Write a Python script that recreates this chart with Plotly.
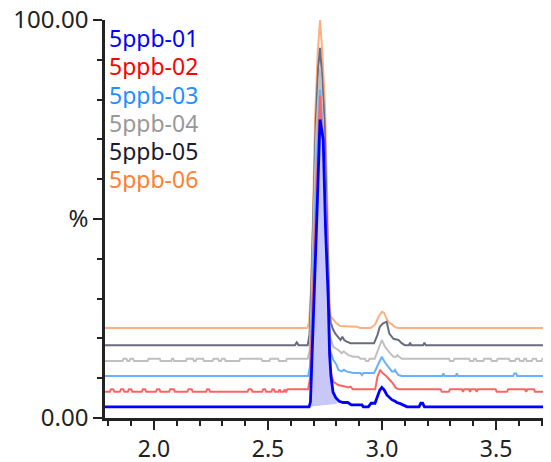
import plotly.graph_objects as go

# sample names (legend order, top to bottom)
names = ["5ppb-01", "5ppb-02", "5ppb-03", "5ppb-04", "5ppb-05", "5ppb-06"]

# retention time (min) / intensity (%)
t_01 = [1.785, 2.680, 2.686, 2.695, 2.705, 2.715, 2.728, 2.742, 2.752, 2.764, 2.770, 2.776,
        2.785, 2.797, 2.812, 2.830, 2.850, 2.865, 2.912, 2.918, 2.940, 2.947, 2.952, 2.969,
        2.980, 2.990, 2.999, 3.010, 3.021, 3.032, 3.043, 3.055, 3.065, 3.080, 3.092, 3.110,
        3.162, 3.170, 3.178, 3.186, 3.741]
y_01 = [2.8, 2.8, 4.0, 18, 32, 52, 75, 70, 48, 30, 16, 10.5,
        6.5, 5.1, 4.2, 3.9, 3.9, 3.3, 3.3, 2.8, 2.8, 3.3, 3.7, 3.7,
        5.5, 7.0, 7.7, 7.0, 5.8, 5.2, 4.6, 4.3, 3.9, 3.6, 3.3, 2.8,
        2.8, 3.7, 3.7, 2.8, 2.8]

t_02 = [1.785, 1.806, 1.811, 1.821, 1.826, 1.850, 1.855, 1.865, 1.870, 1.885, 1.890, 1.900, 1.905,
        1.946, 1.951, 1.961, 1.966, 2.008, 2.013, 2.023, 2.028, 2.066, 2.071, 2.087, 2.092,
        2.146, 2.151, 2.165, 2.170, 2.228, 2.233, 2.241, 2.246, 2.410, 2.415, 2.427, 2.432,
        2.474, 2.479, 2.487, 2.492, 2.514, 2.519, 2.525, 2.530, 2.546, 2.551, 2.556,
        2.568, 2.573, 2.577, 2.580, 2.585,
        2.676, 2.684, 2.693, 2.703, 2.715, 2.728, 2.741, 2.752, 2.761, 2.767, 2.772, 2.787,
        2.808, 2.838, 2.852, 2.862, 2.872,
        2.970, 2.980, 2.992, 3.002, 3.017, 3.032, 3.046, 3.061, 3.076,
        3.257, 3.262, 3.293, 3.298, 3.350, 3.355, 3.360, 3.381, 3.386, 3.391,
        3.410, 3.415, 3.420, 3.498, 3.503, 3.548, 3.553, 3.627, 3.632, 3.637,
        3.666, 3.671, 3.710, 3.715, 3.741]
y_02 = [6.6, 6.6, 7.2, 7.2, 6.6, 6.6, 7.2, 7.2, 6.6, 6.6, 7.2, 7.2, 6.6,
        6.6, 7.2, 7.2, 6.6, 6.6, 7.2, 7.2, 6.6, 6.6, 7.2, 7.2, 6.6,
        6.6, 7.2, 7.2, 6.6, 6.6, 7.2, 7.2, 6.6, 6.6, 7.2, 7.2, 6.6,
        6.6, 7.2, 7.2, 6.6, 6.6, 7.2, 7.2, 6.6, 6.6, 7.2, 6.6,
        6.6, 7.2, 6.6, 6.6, 7.2,
        7.2, 10, 24, 44, 63, 81, 68, 48, 30, 18, 12.0, 9.1,
        8.3, 7.9, 7.7, 7.9, 7.2,
        7.2, 10.4, 12.1, 11.3, 10.6, 9.8, 8.8, 7.5, 7.2,
        7.2, 6.6, 6.6, 7.2, 7.2, 6.6, 7.2, 7.2, 6.6, 7.2,
        7.2, 6.6, 7.2, 7.2, 6.6, 6.6, 7.2, 7.2, 6.6, 7.2,
        7.2, 6.6, 6.6, 7.2, 7.2]

t_03 = [1.785, 2.676, 2.684, 2.692, 2.702, 2.714, 2.728, 2.741, 2.752, 2.761, 2.767, 2.772,
        2.786, 2.801, 2.808, 2.823, 2.833, 2.843, 2.874, 2.905, 2.912, 2.918, 2.965, 2.975,
        2.999, 3.010, 3.028, 3.043, 3.052, 3.057, 3.062, 3.072, 3.087,
        3.264, 3.269, 3.274, 3.323, 3.328, 3.333, 3.575, 3.580, 3.588, 3.593, 3.741]
y_03 = [10.55, 10.55, 13, 25, 45, 65, 82.6, 70, 50, 32, 22, 17.0,
        14.6, 13.3, 12.1, 11.7, 12.1, 11.7, 11.3, 11.3, 10.8, 11.3, 11.3, 12.5,
        15.4, 14.2, 12.9, 11.7, 11.7, 12.1, 11.5, 10.8, 10.55,
        10.55, 11.2, 10.55, 10.55, 11.2, 10.55, 10.55, 11.2, 11.2, 10.55, 10.55]

t_04 = [1.785, 1.862, 1.866, 1.879, 1.883, 1.892, 1.896, 1.908, 1.912, 1.972, 1.976, 2.025, 2.029,
        2.075, 2.079, 2.084, 2.088, 2.140, 2.144, 2.171, 2.175, 2.183, 2.187, 2.215, 2.219,
        2.257, 2.261, 2.281, 2.285, 2.294, 2.298, 2.310, 2.314, 2.374, 2.378, 2.471, 2.475,
        2.506, 2.510, 2.544, 2.548, 2.579, 2.583,
        2.674, 2.683, 2.691, 2.701, 2.712, 2.728, 2.740, 2.752, 2.760, 2.766, 2.772, 2.786,
        2.808, 2.823, 2.832, 2.840, 2.852, 2.874, 2.896, 2.905, 2.925, 2.930, 2.940, 2.945,
        2.968, 2.999, 3.013, 3.035, 3.050, 3.062, 3.068, 3.075, 3.087,
        3.294, 3.298, 3.313, 3.317, 3.382, 3.386, 3.400, 3.404, 3.411, 3.415, 3.444, 3.448,
        3.477, 3.481, 3.503, 3.507, 3.557, 3.561, 3.583, 3.587, 3.601, 3.605, 3.620, 3.624,
        3.631, 3.635, 3.657, 3.661, 3.675, 3.679, 3.700, 3.704, 3.741]
y_04 = [14.3, 14.3, 14.9, 14.9, 14.3, 14.3, 14.9, 14.9, 14.3, 14.3, 14.9, 14.9, 14.3,
        14.3, 14.9, 14.9, 14.3, 14.3, 14.9, 14.9, 14.3, 14.3, 14.9, 14.9, 14.3,
        14.3, 14.9, 14.9, 14.3, 14.3, 14.9, 14.9, 14.3, 14.3, 14.9, 14.9, 14.3,
        14.3, 14.9, 14.9, 14.3, 14.3, 14.9,
        14.9, 17, 30, 52, 72, 88, 75, 55, 38, 27, 20.4, 17.9,
        17.1, 16.3, 16.7, 16.3, 15.8, 15.4, 15.4, 14.9, 14.9, 14.3, 14.3, 14.9,
        14.9, 19.6, 17.9, 16.3, 15.4, 15.4, 15.8, 15.4, 14.9,
        14.9, 14.3, 14.3, 14.9, 14.9, 14.3, 14.3, 14.9, 14.9, 14.3, 14.3, 14.9,
        14.9, 14.3, 14.3, 14.9, 14.9, 14.3, 14.3, 14.9, 14.9, 14.3, 14.3, 14.9,
        14.9, 14.3, 14.3, 14.9, 14.9, 14.3, 14.3, 14.9, 14.9]

t_05 = [1.785, 2.618, 2.626, 2.634, 2.674, 2.682, 2.690, 2.700, 2.710, 2.720, 2.728, 2.737,
        2.748, 2.756, 2.762, 2.768, 2.775, 2.785, 2.795, 2.808, 2.818, 2.826, 2.834, 2.845,
        2.862, 2.965, 2.980, 2.990, 3.005, 3.020, 3.032, 3.050, 3.072, 3.086, 3.100,
        3.118, 3.123, 3.128, 3.180, 3.186, 3.192, 3.741]
y_05 = [18.3, 18.3, 19.0, 18.3, 18.3, 21, 33, 55, 75, 88, 93, 86,
        74, 55, 38, 28, 24, 22.3, 21.2, 20.4, 19.6, 20.4, 19.6, 19.2,
        18.8, 18.8, 20.9, 22.9, 23.8, 24.2, 21.2, 19.9, 19.6, 18.8, 18.3,
        18.3, 18.9, 18.3, 18.3, 18.9, 18.3, 18.3]

t_06 = [1.785, 2.672, 2.680, 2.688, 2.697, 2.706, 2.718, 2.728, 2.738, 2.750, 2.758, 2.764,
        2.769, 2.775, 2.790, 2.800, 2.816, 2.889, 2.904, 2.950, 2.970, 2.985, 3.000, 3.010,
        3.020, 3.032, 3.045, 3.055, 3.070, 3.741]
y_06 = [22.6, 22.6, 24, 32, 50, 75, 92, 100, 92, 78, 60, 40,
        30, 25.5, 24.3, 23.8, 23.1, 22.9, 22.6, 22.6, 23.5, 25.5, 26.7, 26.3,
        24.9, 23.8, 23.5, 22.9, 22.6, 22.6]

# integration window of the 5ppb-01 main peak (start / end of the baseline)
integ_start = (2.680, 2.8)
integ_end = (2.805, 3.6)

times = [t_01, t_02, t_03, t_04, t_05, t_06]
values = [y_01, y_02, y_03, y_04, y_05, y_06]

# colours
text_colors = ["#0000ff", "#ff0000", "#1e90ff", "#999999", "#1a1a33", "#ff8033"]
line_colors = ["#0000ff", "#ff6464", "#66b2ff", "#c0c0c0", "#686c82", "#ffb080"]

fig = go.Figure()

# back to front: 06 first, 01 last
for i in range(5, 0, -1):
    fig.add_trace(go.Scatter(x=times[i], y=values[i], mode="lines", name=names[i],
                             line=dict(color=line_colors[i], width=2), hoverinfo="skip"))

# shaded integrated area under the 5ppb-01 peak
fx = [integ_start[0]] + [t for t in t_01 if integ_start[0] < t < integ_end[0]] + [integ_end[0]]
fy = [integ_start[1]] + [v for t, v in zip(t_01, y_01) if integ_start[0] < t < integ_end[0]] + [integ_end[1]]
fig.add_trace(go.Scatter(x=fx, y=fy, mode="lines", fill="toself", fillcolor="#c8c8f8",
                         line=dict(width=0), hoverinfo="skip"))

fig.add_trace(go.Scatter(x=t_01, y=y_01, mode="lines", name=names[0],
                         line=dict(color=line_colors[0], width=2.8), hoverinfo="skip"))

# coloured sample names as legend
for i, nm in enumerate(names):
    fig.add_annotation(text=nm, xref="paper", yref="paper", x=0.006, y=0.955 - i * 0.0705,
                       xanchor="left", yanchor="middle", showarrow=False, height=27,
                       borderpad=0, font=dict(color=text_colors[i], size=23))

axis_col = "#222222"
# the page body adds an 8px margin, so the figure is drawn 8px smaller
fig.update_layout(
    width=543, height=454,
    margin=dict(l=97, r=0, t=12, b=44),
    showlegend=False,
    plot_bgcolor="white", paper_bgcolor="white",
    font=dict(family="Noto Sans", size=24, color=axis_col),
    xaxis=dict(range=[1.785, 3.741], showline=True, linecolor=axis_col, linewidth=2.5,
               showgrid=False, zeroline=False, ticks="outside", ticklen=9, tickwidth=2,
               tickcolor=axis_col, tickvals=[2.0, 2.5, 3.0, 3.5],
               ticktext=["2.0", "2.5", "3.0", "3.5"], automargin=False,
               ticklabeloverflow="allow", tickfont=dict(size=23),
               minor=dict(dtick=0.1, tick0=0, ticks="outside", ticklen=5, tickwidth=2,
                          tickcolor=axis_col)),
    yaxis=dict(range=[0, 100], showline=True, linecolor=axis_col, linewidth=2.5,
               showgrid=False, zeroline=False, ticks="outside", ticklen=9, tickwidth=2,
               tickcolor=axis_col, tickvals=[0, 50, 100],
               ticktext=["0.00", "%", "100.00"], automargin=False,
               ticklabeloverflow="allow",
               minor=dict(dtick=10, tick0=0, ticks="outside", ticklen=5, tickwidth=2,
                          tickcolor=axis_col)),
)

fig.write_html("out.html")
